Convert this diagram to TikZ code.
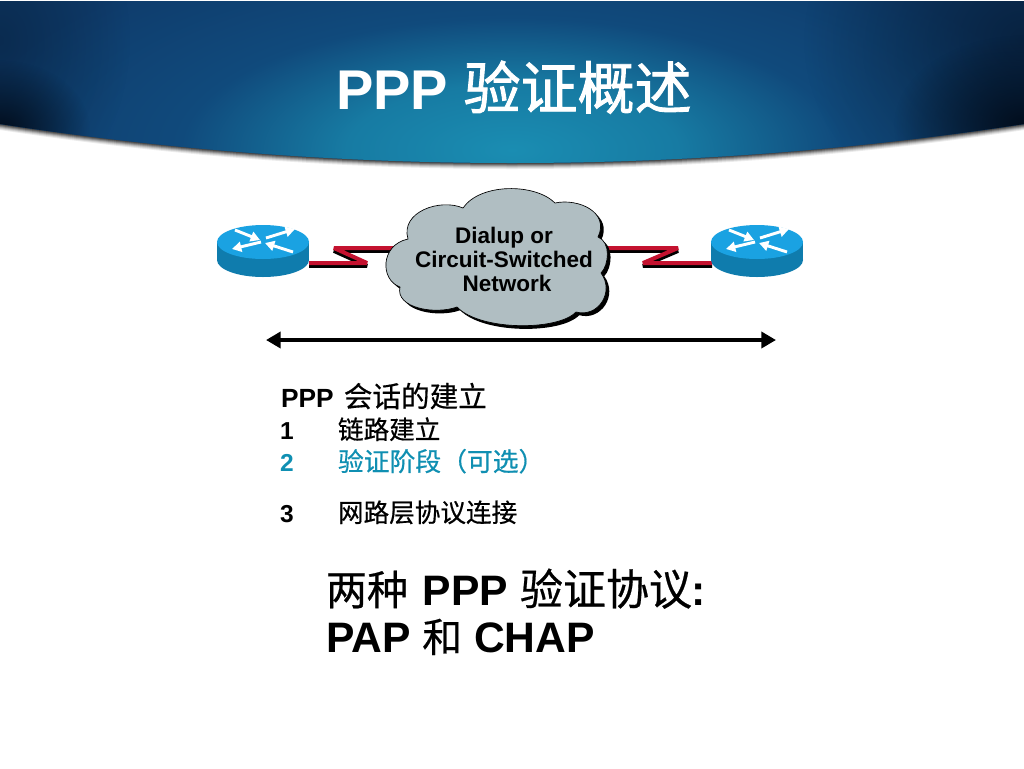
\documentclass[tikz,border=0pt]{standalone}
\usepackage{fontspec}
\setmainfont{Liberation Sans}
\newfontfamily\cjk[FakeBold=0.5]{Noto Sans CJK SC}
\newfontfamily\cjktitle[FakeBold=1.6]{Noto Sans CJK SC}
\usetikzlibrary{arrows.meta,fadings}
\definecolor{routertop}{HTML}{1AA2E2}
\definecolor{routerside}{HTML}{0F7CAD}
\definecolor{cloudfill}{HTML}{B0BEC2}
\definecolor{linkred}{HTML}{C4122F}
\definecolor{stepteal}{HTML}{0F8FB2}
\definecolor{hdrbase}{HTML}{0F3C6C}
\definecolor{hdrdark}{HTML}{020D1C}
\definecolor{glowa}{HTML}{1A8DB2}
\definecolor{glowb}{HTML}{177BA3}
\definecolor{glowc}{HTML}{104A7C}
\pgfdeclareradialshading{hdrglow}{\pgfpoint{0bp}{0bp}}{
  color(0bp)=(glowa);
  color(7.5bp)=(glowb);
  color(15bp)=(glowc);
  color(25bp)=(hdrbase);
  color(50bp)=(hdrbase)}
\tikzfading[name=edgefade, inner color=transparent!0, outer color=transparent!100]
\newcommand{\px}[1]{\pgfmathsetlengthmacro\pxsize{#1*0.75pt}\fontsize{\pxsize}{\pxsize}\selectfont}
\newcommand{\hdrpath}{(0,1) -- (1024,1) -- (1024,124) .. controls (854,150) and (684,163) .. (512,163) .. controls (340,163) and (170,150) .. (0,124) -- cycle}
\newcommand{\cloudpath}{(463,208) .. controls (480,183) and (535,183) .. (555,203)
  .. controls (578,198) and (610,212) .. (598,237)
  .. controls (611,242) and (609,265) .. (601,273)
  .. controls (615,292) and (598,318) .. (576,312)
  .. controls (558,331) and (480,331) .. (457,307)
  .. controls (435,315) and (395,308) .. (400,287)
  .. controls (380,280) and (380,245) .. (408,239)
  .. controls (400,212) and (440,198) .. (463,208) -- cycle}
\tikzset{
  x=0.75pt, y=-0.75pt,
  linkline/.style={line width=3pt, linkred, line join=bevel},
  linkshadow/.style={line width=3pt, black, line join=bevel},
  texttag/.style={anchor=base west, inner sep=0pt, outer sep=0pt, font=\bfseries},
  cloudtext/.style={align=center, inner sep=0pt, font=\bfseries\fontsize{16.9pt}{18pt}\selectfont},
  routerarrow/.style={white, line width=2.2pt, -{Triangle[length=7pt,width=7.5pt]}},
  spanarrow/.style={line width=3.7pt, black, {Triangle[length=11pt,width=12pt]}-{Triangle[length=11pt,width=12pt]}},
  pics/router/.style={code={
    \fill[routerside] (0,20) ellipse[x radius=46,y radius=17];
    \fill[routerside] (-46,3) rectangle (46,20);
    \fill[routertop] (0,2) ellipse[x radius=46,y radius=17];
    \draw[routerarrow] (-28,-10) -- (-3,0);
    \draw[routerarrow] (3,-2) -- (32,-11);
    \draw[routerarrow] (-2,2) -- (-31,9);
    \draw[routerarrow] (30,12) -- (2,3);
  }}
}
\begin{document}
\begin{tikzpicture}
\useasboundingbox (0,0) rectangle (1024,768);
\fill[white] (0,0) rectangle (1024,768);
% header shadow
\foreach \s/\o in {6/0.08,5/0.1,4/0.14,3/0.2,2/0.25,1/0.3}{
  \begin{scope}[yshift=-0.75*\s]
    \fill[black,opacity=\o] \hdrpath;
  \end{scope}
}
% header
\begin{scope}
  \clip \hdrpath;
  \fill[hdrbase] (0,0) rectangle (1024,170);
  \shade[shading=hdrglow] (-40,-70) rectangle (1064,370);
  \fill[hdrdark,path fading=edgefade,opacity=0.35] (0,40) ellipse[x radius=130,y radius=170];
  \fill[hdrdark,path fading=edgefade,opacity=0.55] (1024,40) ellipse[x radius=220,y radius=190];
  \fill[hdrdark,path fading=edgefade] (0,130) ellipse[x radius=90,y radius=70];
  \fill[hdrdark,path fading=edgefade] (1024,125) ellipse[x radius=130,y radius=90];
\end{scope}
\node[texttag,white] (title) at (336,109) {\px{56}PPP {\cjktitle\mdseries\px{57}验证概述}};

% links
\coordinate (rl) at (263,240);
\coordinate (rr) at (757,240);
\coordinate (cl) at (400,248);
\coordinate (cr) at (598,248);
\coordinate (ll1) at (367,263);
\coordinate (ll2) at (334,248);
\coordinate (lr1) at (678,248);
\coordinate (lr2) at (643,263);
\coordinate (rls) at (309,263);
\coordinate (rrs) at (712,263);
\draw[linkshadow] ([yshift=-2.2pt]rls) -- ([yshift=-2.2pt]ll1) -- ([yshift=-2.2pt]ll2) -- ([yshift=-2.2pt]cl);
\draw[linkshadow] ([yshift=-2.2pt]cr) -- ([yshift=-2.2pt]lr1) -- ([yshift=-2.2pt]lr2) -- ([yshift=-2.2pt]rrs);
\draw[linkline] (rls) -- (ll1) -- (ll2) -- (cl);
\draw[linkline] (cr) -- (lr1) -- (lr2) -- (rrs);

% cloud
\begin{scope}[xshift=2.4pt,yshift=-2.4pt]
  \fill[black] \cloudpath;
\end{scope}
\draw[black,line width=0.5pt,fill=cloudfill] \cloudpath;
\node[cloudtext] (cloudlabel) at (504,259.5) {Dialup or\\Circuit-Switched\\\hspace*{4.5pt}Network};

% routers
\pic at (rl) {router};
\pic at (rr) {router};

% span arrow
\coordinate (sl) at (266,340);
\coordinate (sr) at (776,340);
\draw[spanarrow] (sl) -- (sr);

% text
\node[texttag] (h) at (281,407) {\px{26.3}PPP\hspace{2.2pt} {\cjk\mdseries\px{28.6}会话的建立}};
\node[texttag] (n1) at (280,439) {\px{24.5}1};
\node[texttag,font=\mdseries] (s1) at (338,439) {\cjk\px{25.6}链路建立};
\node[texttag,stepteal] (n2) at (280,471) {\px{24.5}2};
\node[texttag,stepteal,font=\mdseries] (s2) at (338,471) {\cjk\px{25.8}验证阶段（可选）};
\node[texttag] (n3) at (280,522) {\px{24.5}3};
\node[texttag,font=\mdseries] (s3) at (338,522) {\cjk\px{25.6}网路层协议连接};
\node[texttag] (b1) at (326,605) {\px{42.6}{\cjk\mdseries\px{41}两种}\hspace{2.3pt} PPP {\cjk\mdseries\px{43}验证协议}:};
\node[texttag] (b2) at (326,652) {\px{42.6}PAP {\cjk\mdseries\px{40}和} CHAP};
\end{tikzpicture}
\end{document}
